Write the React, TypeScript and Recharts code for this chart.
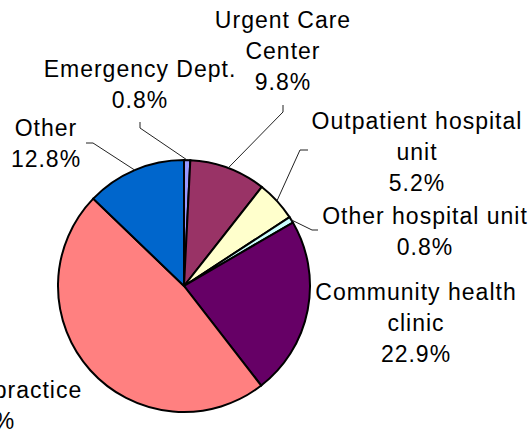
import React from "react";
import { Cell, Pie, PieChart } from "recharts";

// care setting shares (%), clockwise from 12 o'clock
const categories = [
  "Emergency Dept.",
  "Urgent Care\nCenter",
  "Outpatient hospital\nunit",
  "Other hospital unit",
  "Community health\nclinic",
  "Private practice",
  "Other",
];
const shares = [0.8, 9.8, 5.2, 0.8, 22.9, 47.7, 12.8];
const colors = ["#9999FF", "#993366", "#FFFFCC", "#CCFFFF", "#660066", "#FF8080", "#0066CC"];

const data = categories.map((name, i) => ({ name, value: shares[i] }));

// label placement: centre x, first baseline, leader elbow points (from label toward slice)
const labelLayout: { x: number; y: number; leader?: number[][]; dx?: number[] }[] = [
  { x: 140, y: 77, leader: [[140, 122], [140, 128]] },
  { x: 283, y: 28, leader: [[283, 105], [283, 112]] },
  { x: 417, y: 129, leader: [[308, 150], [300, 150]] },
  { x: 425, y: 224, leader: [[318, 230], [312, 230]] },
  { x: 416, y: 300 },
  { x: -5, y: 398, dx: [0, -15] },
  { x: 46, y: 136, leader: [[86, 143], [93, 143]] },
];

const LINE = 31;
const RAD = Math.PI / 180;

function renderLabel(props: any) {
  const { cx, cy, midAngle, outerRadius, index, value, name } = props;
  const lay = labelLayout[index];
  const lines = String(name).split("\n").concat([value.toFixed(1) + "%"]);
  let path = null;
  if (lay.leader) {
    const ax = cx + outerRadius * Math.cos(-midAngle * RAD);
    const ay = cy + outerRadius * Math.sin(-midAngle * RAD);
    const pts = lay.leader.concat([[ax, ay]]);
    path = (
      <polyline
        points={pts.map((p) => p.join(",")).join(" ")}
        fill="none"
        stroke="#222"
        strokeWidth={1}
      />
    );
  }
  return (
    <g key={"lbl" + index}>
      {path}
      <text
        textAnchor="middle"
        fontFamily="'Liberation Sans', Arial, sans-serif"
        fontSize={23}
        letterSpacing={1}
        fill="#000"
      >
        {lines.map((l, i) => (
          <tspan key={i} x={lay.x + ((lay.dx && lay.dx[i]) || 0)} y={lay.y + i * LINE}>
            {l}
          </tspan>
        ))}
      </text>
    </g>
  );
}

export default function App() {
  return (
    <div style={{ position: "absolute", left: 0, top: 0, width: 531, height: 435, background: "#fff" }}>
      <PieChart width={531} height={435} margin={{ top: 0, right: 0, bottom: 0, left: 0 }}>
        <Pie
          data={data}
          dataKey="value"
          nameKey="name"
          cx={184}
          cy={286}
          outerRadius={126}
          startAngle={90}
          endAngle={-270}
          stroke="#000"
          strokeWidth={2}
          label={renderLabel}
          labelLine={false}
          isAnimationActive={false}
        >
          {data.map((d, i) => (
            <Cell key={d.name} fill={colors[i]} />
          ))}
        </Pie>
      </PieChart>
    </div>
  );
}
